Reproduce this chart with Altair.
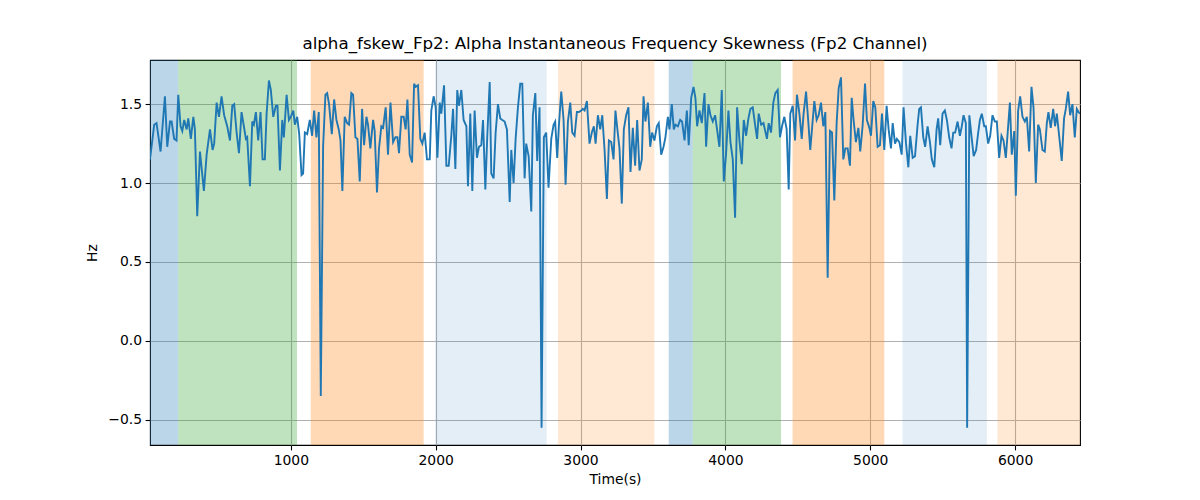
import altair as alt
import pandas as pd

# signal samples (time in s, value in Hz)
time_s = [
    28, 57, 73, 101, 131, 147, 166, 177, 195, 211, 223, 239, 251, 264, 281, 292, 310, 327, 338, 354,
    373, 400, 419, 442, 460, 471, 488, 504, 522, 540, 561, 580, 596, 609, 626, 642, 660, 676, 690, 699,
    718, 734, 745, 759, 775, 791, 805, 821, 833, 849, 862, 879, 897, 908, 925, 941, 952, 971, 987, 1000,
    1017, 1028, 1044, 1058, 1074, 1085, 1097, 1113, 1131, 1147, 1161, 1177, 1193, 1207, 1223, 1239, 1251, 1264, 1283, 1299,
    1315, 1331, 1343, 1356, 1372, 1389, 1402, 1418, 1430, 1446, 1460, 1476, 1492, 1506, 1522, 1533, 1549, 1568, 1579, 1595,
    1609, 1625, 1637, 1655, 1671, 1688, 1706, 1722, 1736, 1747, 1763, 1779, 1793, 1805, 1821, 1837, 1851, 1862, 1878, 1894,
    1908, 1924, 1940, 1959, 1970, 1986, 2000, 2012, 2028, 2039, 2058, 2074, 2090, 2108, 2120, 2136, 2149, 2161, 2177, 2193,
    2212, 2223, 2239, 2253, 2269, 2285, 2299, 2315, 2327, 2343, 2356, 2373, 2384, 2400, 2414, 2430, 2446, 2460, 2476, 2492,
    2511, 2522, 2538, 2552, 2568, 2584, 2598, 2614, 2625, 2642, 2660, 2671, 2688, 2701, 2717, 2731, 2747, 2763, 2779, 2798,
    2814, 2825, 2839, 2851, 2867, 2883, 2897, 2913, 2929, 2943, 2959, 2975, 2989, 3005, 3016, 3028, 3044, 3062, 3078, 3092,
    3104, 3120, 3136, 3150, 3166, 3182, 3196, 3212, 3228, 3241, 3258, 3269, 3285, 3299, 3315, 3331, 3345, 3361, 3377, 3391,
    3407, 3423, 3435, 3448, 3465, 3481, 3494, 3510, 3527, 3540, 3557, 3573, 3586, 3603, 3614, 3630, 3644, 3655, 3672, 3688,
    3701, 3718, 3734, 3747, 3764, 3780, 3793, 3805, 3821, 3837, 3856, 3867, 3883, 3897, 3913, 3929, 3941, 3959, 3975, 3989,
    4005, 4021, 4035, 4051, 4067, 4081, 4097, 4113, 4127, 4143, 4159, 4173, 4189, 4205, 4219, 4230, 4247, 4263, 4287, 4299,
    4315, 4331, 4345, 4361, 4377, 4391, 4407, 4423, 4437, 4448, 4465, 4481, 4494, 4511, 4527, 4540, 4557, 4573, 4586, 4603,
    4614, 4630, 4644, 4660, 4676, 4690, 4706, 4722, 4736, 4752, 4768, 4782, 4798, 4814, 4828, 4844, 4860, 4872, 4885, 4901,
    4918, 4931, 4947, 4964, 4977, 4994, 5005, 5021, 5035, 5051, 5067, 5081, 5097, 5113, 5127, 5143, 5155, 5171, 5184, 5201,
    5217, 5230, 5247, 5263, 5276, 5293, 5309, 5327, 5338, 5350, 5366, 5379, 5396, 5412, 5425, 5442, 5458, 5469, 5483, 5499,
    5515, 5529, 5545, 5561, 5573, 5586, 5603, 5619, 5632, 5644, 5660, 5669, 5684, 5701, 5714, 5731, 5744, 5757, 5770, 5787,
    5798, 5814, 5828, 5844, 5860, 5874, 5890, 5906, 5920, 5936, 5952, 5964, 5977, 5994, 6005, 6021, 6035, 6051, 6067, 6081,
    6097, 6113, 6127, 6143, 6159, 6171, 6189, 6205, 6219, 6230, 6246, 6263, 6276, 6288, 6304, 6322, 6338, 6350, 6366, 6380,
    6396, 6412, 6426, 6438, 6448,
]
skew_hz = [
    1.15, 1.37, 1.38, 1.20, 1.55, 1.23, 1.39, 1.39, 1.28, 1.27, 1.56, 1.36, 1.33, 1.40, 1.34, 1.41, 1.28, 1.42, 1.34, 0.79,
    1.20, 0.95, 1.18, 1.34, 1.21, 1.25, 1.51, 1.42, 1.55, 1.43, 1.36, 1.27, 1.49, 1.50, 1.32, 1.19, 1.45, 1.36, 1.28, 1.29,
    0.98, 1.39, 1.37, 1.45, 1.27, 1.45, 1.15, 1.15, 1.44, 1.65, 1.59, 1.42, 1.49, 1.49, 1.08, 1.40, 1.29, 1.56, 1.40, 1.42,
    1.46, 1.37, 1.42, 1.31, 1.05, 1.06, 1.32, 1.31, 1.40, 1.30, 1.46, 1.29, 1.45, -0.35, 1.23, 1.56, 1.57, 1.50, 1.31, 1.53,
    1.40, 1.34, 1.27, 0.95, 1.42, 1.38, 1.37, 1.57, 1.56, 1.29, 1.28, 1.01, 1.47, 1.24, 1.42, 1.37, 1.22, 1.40, 1.33, 0.94,
    1.22, 1.36, 1.35, 1.48, 1.18, 1.51, 1.26, 1.29, 1.29, 1.19, 1.42, 1.42, 1.34, 1.53, 1.18, 1.13, 1.63, 1.61, 1.62, 1.28,
    1.25, 1.32, 1.15, 1.15, 1.46, 1.55, 1.48, 1.16, 1.51, 1.44, 1.62, 1.11, 1.11, 1.30, 1.47, 1.09, 1.59, 1.49, 1.59, 1.40,
    1.36, 0.98, 1.44, 0.95, 1.46, 1.16, 1.23, 1.24, 1.40, 0.96, 1.29, 1.64, 1.06, 1.03, 1.32, 1.50, 1.41, 1.40, 1.39, 1.34,
    0.88, 1.21, 1.00, 1.28, 1.48, 1.63, 1.63, 1.03, 1.25, 1.17, 0.82, 1.43, 1.57, 1.14, 1.48, -0.55, 1.29, 1.32, 0.97, 1.28,
    1.37, 1.39, 1.16, 1.37, 1.58, 1.40, 0.99, 1.39, 1.51, 1.32, 1.30, 1.45, 1.45, 1.46, 1.47, 1.46, 1.52, 1.25, 1.32, 1.36,
    1.25, 1.43, 1.34, 1.43, 1.21, 0.90, 1.27, 1.26, 1.15, 1.46, 1.31, 1.22, 0.87, 1.34, 1.43, 1.48, 1.07, 1.35, 1.11, 1.40,
    1.08, 1.15, 1.55, 1.39, 1.51, 1.23, 1.32, 1.27, 1.36, 1.38, 1.18, 1.23, 1.29, 1.42, 1.34, 1.50, 1.34, 1.37, 1.36, 1.40,
    1.39, 1.27, 1.46, 1.24, 1.54, 1.61, 1.54, 1.36, 1.46, 1.38, 1.57, 1.23, 1.50, 1.43, 1.39, 1.43, 1.35, 1.23, 1.59, 1.01,
    1.19, 1.46, 1.26, 1.15, 0.78, 1.48, 1.27, 1.12, 1.40, 1.30, 1.41, 1.47, 1.48, 1.37, 1.28, 1.44, 1.37, 1.38, 1.28, 1.38,
    1.32, 1.51, 1.57, 1.59, 1.29, 1.36, 1.42, 1.34, 0.96, 1.44, 1.49, 1.27, 1.56, 1.44, 1.28, 1.44, 1.58, 1.38, 1.21, 1.40,
    1.52, 1.40, 1.43, 1.51, 1.36, 1.45, 0.40, 1.33, 1.32, 0.89, 1.38, 1.60, 1.67, 1.15, 1.22, 1.22, 1.11, 1.54, 1.40, 1.26,
    1.35, 1.20, 1.36, 1.63, 1.40, 1.35, 1.30, 1.52, 1.48, 1.23, 1.24, 1.44, 1.21, 1.49, 1.34, 1.22, 1.38, 1.25, 1.28, 1.26,
    1.18, 1.48, 1.25, 1.10, 1.30, 1.16, 1.17, 1.37, 1.47, 1.48, 1.29, 1.23, 1.36, 1.26, 1.15, 1.10, 1.34, 1.41, 1.24, 1.44,
    1.46, 1.40, 1.29, 1.22, 1.32, 1.32, 1.39, 1.30, 1.36, 1.43, 1.38, -0.55, 1.43, 1.28, 1.17, 1.21, 1.31, 1.40, 1.44, 1.36,
    1.36, 1.25, 1.30, 1.43, 1.39, 1.39, 1.16, 1.30, 1.27, 1.16, 1.36, 1.51, 1.18, 1.33, 0.92, 1.46, 1.55, 1.42, 1.39, 1.42,
    1.20, 1.61, 1.48, 1.00, 1.37, 1.34, 1.21, 1.20, 1.38, 1.45, 1.35, 1.47, 1.36, 1.44, 1.30, 1.14, 1.41, 1.47, 1.58, 1.43,
    1.50, 1.29, 1.47, 1.45, 1.44,
]

# shaded segments
seg_start = [0, 223, 1138, 1998, 2844, 3609, 3775, 4464, 5223, 5878]
seg_end = [223, 1043, 1917, 2766, 3510, 3775, 4384, 5097, 5805, 6600]
seg_kind = ["A", "B", "C", "D", "E", "A", "B", "C", "D", "E"]

kinds = ["A", "B", "C", "D", "E"]
kind_fill = [
    "rgba(31,119,180,0.3)",
    "rgba(44,160,44,0.3)",
    "rgba(255,127,14,0.3)",
    "rgba(31,119,180,0.12)",
    "rgba(255,127,14,0.18)",
]

signal = pd.DataFrame({"t": time_s, "v": skew_hz})
segs = pd.DataFrame({"start": seg_start, "end": seg_end, "kind": seg_kind})

x_scale = alt.Scale(domain=[28, 6448], nice=False, zero=False)
y_scale = alt.Scale(domain=[-0.66, 1.78], nice=False, zero=False)

bands = alt.Chart(segs).mark_rect(clip=True, strokeWidth=1, opacity=1).encode(
    x=alt.X("start:Q", scale=x_scale),
    x2="end:Q",
    color=alt.Color("kind:N", scale=alt.Scale(domain=kinds, range=kind_fill), legend=None),
)

line = alt.Chart(signal).mark_line(color="#1f77b4", strokeWidth=1.9, clip=True).encode(
    x=alt.X("t:Q", scale=x_scale, title="Time(s)",
            axis=alt.Axis(values=[1000, 2000, 3000, 4000, 5000, 6000], format="d")),
    y=alt.Y("v:Q", scale=y_scale, title="Hz",
            axis=alt.Axis(values=[-0.5, 0, 0.5, 1.0, 1.5], format=".1f")),
)

chart = (bands + line).properties(
    width=930,
    height=385,
    autosize=alt.AutoSizeParams(type="none"),
    padding={"left": 142, "top": 52, "right": 112, "bottom": 47},
    title=alt.TitleParams(
        "alpha_fskew_Fp2: Alpha Instantaneous Frequency Skewness (Fp2 Channel)",
        fontSize=16.7, fontWeight="normal", font="DejaVu Sans", color="black",
        anchor="middle", offset=7,
    ),
).configure_axis(
    labelFont="DejaVu Sans", titleFont="DejaVu Sans",
    labelFontSize=13.9, titleFontSize=13.9,
    labelColor="black", titleColor="black", titleFontWeight="normal",
    grid=True, gridColor="#b0b0b0", gridWidth=1.1,
    tickColor="black", tickWidth=1.1, tickSize=4.9, labelPadding=3.5,
    domain=False, titlePadding=5,
).configure_axisY(
    titlePadding=8,
).configure_view(
    stroke="black", strokeWidth=1.1,
)

chart.save("out.html", embed_options={"renderer": "svg", "actions": False})
